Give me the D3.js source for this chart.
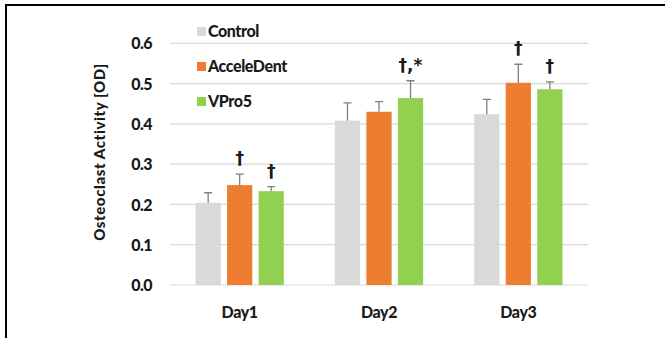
<!DOCTYPE html>
<html><head><meta charset="utf-8">
<script src="https://cdn.jsdelivr.net/npm/d3@7"></script>
<style>body{margin:0;background:#fff;}svg{display:block;}</style>
</head><body>
<svg id="chart" width="665" height="338"></svg>
<script>
const categories = ["Day1", "Day2", "Day3"];
const seriesNames = ["Control", "AcceleDent", "VPro5"];
const controlValues = [0.204, 0.408, 0.424];
const acceleDentValues = [0.248, 0.430, 0.502];
const vpro5Values = [0.233, 0.464, 0.486];
const controlErrors = [0.025, 0.044, 0.037];
const acceleDentErrors = [0.027, 0.025, 0.046];
const vpro5Errors = [0.011, 0.043, 0.018];
const controlMarks = ["", "", ""];
const acceleDentMarks = ["†", "", "†"];
const vpro5Marks = ["†", "†,*", "†"];
const yTicks = [0.0, 0.1, 0.2, 0.3, 0.4, 0.5, 0.6];
const colors = ["#d9d9d9", "#ed7d31", "#92d050"];

const values = [controlValues, acceleDentValues, vpro5Values];
const errors = [controlErrors, acceleDentErrors, vpro5Errors];
const marks = [controlMarks, acceleDentMarks, vpro5Marks];

const svg = d3.select("#chart");
const font = "Lato,'Open Sans',sans-serif";

// frame
svg.append("line").attr("x1", 6).attr("x2", 665).attr("y1", 5).attr("y2", 5)
  .attr("stroke", "#000").attr("stroke-width", 2);
svg.append("line").attr("x1", 6).attr("x2", 6).attr("y1", 4).attr("y2", 338)
  .attr("stroke", "#000").attr("stroke-width", 2);

const x0 = d3.scaleBand().domain(categories).range([170, 588]).paddingInner(0).paddingOuter(0);
const x1 = d3.scaleBand().domain(seriesNames).range([0, x0.bandwidth()]).paddingInner(0.2).paddingOuter(0.81);
const y = d3.scaleLinear().domain([0, 0.6]).range([285, 43.3]);

// gridlines
svg.append("g").selectAll("line").data(yTicks).join("line")
  .attr("x1", 170).attr("x2", 588)
  .attr("y1", d => y(d)).attr("y2", d => y(d))
  .attr("stroke", "#d9d9d9").attr("stroke-width", 1.2);

// y axis
const yAxis = svg.append("g").attr("transform", "translate(152,0)")
  .call(d3.axisLeft(y).tickValues(yTicks).tickFormat(d3.format(".1f")).tickSize(0).tickPadding(0));
yAxis.select(".domain").remove();
yAxis.selectAll("text").attr("font-family", font).attr("font-weight", "900")
  .attr("font-size", 16).attr("fill", "#1a1a1a").attr("dy", "0.35em").attr("letter-spacing", "-0.5");

// x axis
const xAxis = svg.append("g").attr("transform", "translate(0,285)")
  .call(d3.axisBottom(x0).tickSize(0).tickPadding(0));
xAxis.select(".domain").remove();
xAxis.selectAll("text").attr("font-family", font).attr("font-weight", "900")
  .attr("font-size", 16).attr("fill", "#1a1a1a").attr("dy", "0").attr("y", 33).attr("letter-spacing", "-0.4");

// y title
svg.append("text").attr("transform", "translate(105,152) rotate(-90)")
  .attr("text-anchor", "middle").attr("font-family", font).attr("font-weight", "900")
  .attr("font-size", 15).attr("fill", "#1a1a1a").attr("letter-spacing", "0.6")
  .text("Osteoclast Activity [OD]");

// bars
seriesNames.forEach((s, si) => {
  const g = svg.append("g");
  g.selectAll("rect").data(categories).join("rect")
    .attr("x", (c) => x0(c) + x1(s))
    .attr("width", x1.bandwidth())
    .attr("y", (c, i) => y(values[si][i]))
    .attr("height", (c, i) => y(0) - y(values[si][i]))
    .attr("fill", colors[si]);
  // error bars
  g.selectAll("path.err").data(categories).join("path").attr("class", "err")
    .attr("d", (c, i) => {
      const cx = x0(c) + x1(s) + x1.bandwidth() / 2;
      const yt = y(values[si][i] + errors[si][i]);
      const yb = y(values[si][i]);
      return `M${cx},${yb}V${yt}M${cx - 4},${yt}H${cx + 4}`;
    })
    .attr("stroke", "#808080").attr("stroke-width", 1.3).attr("fill", "none");
  // significance marks
  g.selectAll("text").data(categories).join("text")
    .attr("x", (c) => x0(c) + x1(s) + x1.bandwidth() / 2)
    .attr("y", (c, i) => y(values[si][i] + errors[si][i]) - 10)
    .attr("text-anchor", "middle").attr("font-family", "'DejaVu Sans',sans-serif")
    .attr("font-weight", "bold").attr("font-size", 17).attr("fill", "#1a1a1a")
    .text((c, i) => marks[si][i]);
});

// legend
const legend = svg.append("g");
seriesNames.forEach((s, i) => {
  const ly = 32 + i * 35;
  legend.append("rect").attr("x", 197).attr("y", ly - 5).attr("width", 9).attr("height", 9).attr("fill", colors[i]);
  legend.append("text").attr("x", 208).attr("y", ly + 5).attr("font-family", font)
    .attr("font-weight", "900").attr("font-size", 16).attr("fill", "#1a1a1a").attr("letter-spacing", "-0.4").text(s);
});
</script>
</body></html>
